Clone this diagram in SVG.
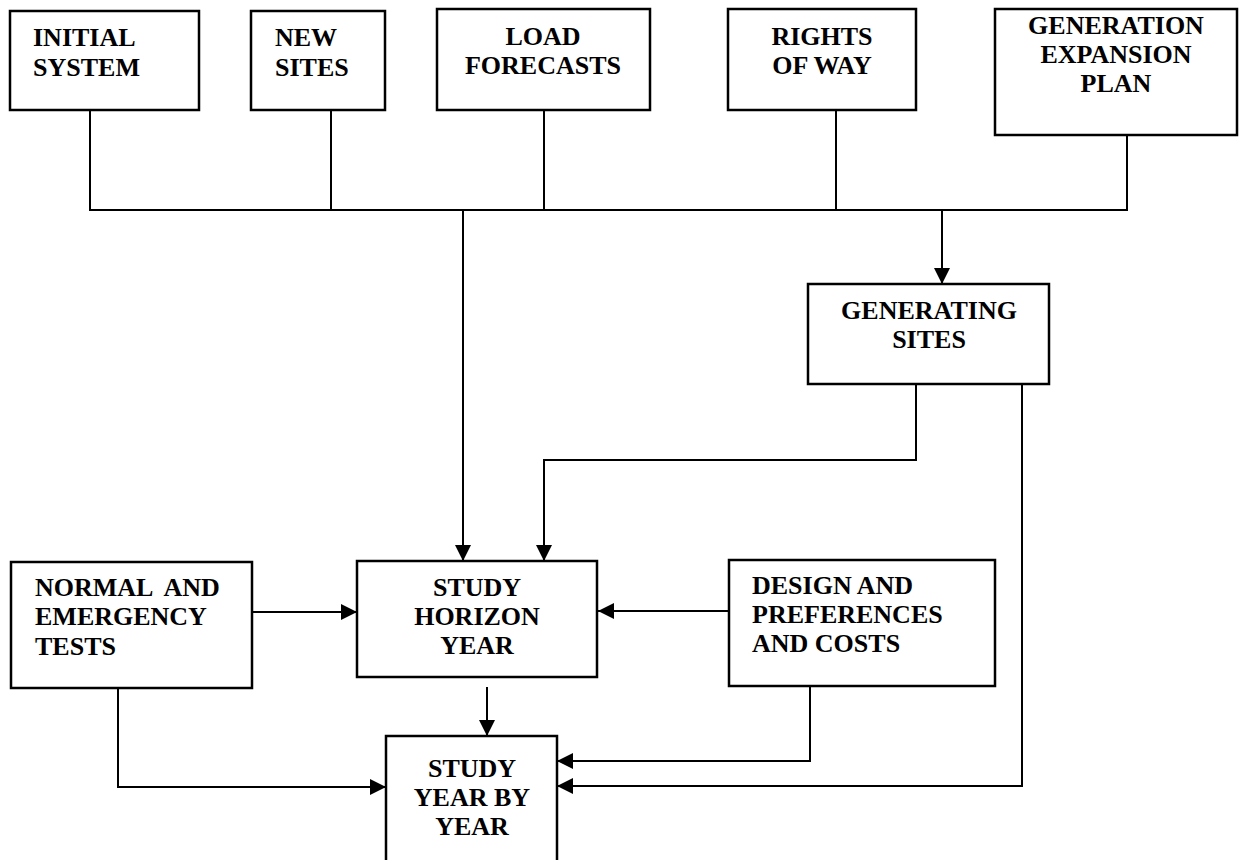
<svg xmlns="http://www.w3.org/2000/svg" width="1242" height="860" viewBox="0 0 1242 860">
  <style>
    .box { fill: #fff; stroke: #000; stroke-width: 2.5; }
    .lbl { font-family: "Liberation Serif", "Times New Roman", serif; font-weight: bold; font-size: 26px; fill: #000; }
    .mid { text-anchor: middle; }
    .wire { fill: none; stroke: #000; stroke-width: 2; }
  </style>
  <defs>
    <marker id="arrow" viewBox="0 0 16 16" refX="16" refY="8" markerWidth="16" markerHeight="16" markerUnits="userSpaceOnUse" orient="auto">
      <path d="M0,0 L16,8 L0,16 Z" fill="#000"/>
    </marker>
  </defs>
  <rect width="1242" height="860" fill="#fff"/>

  <!-- connectors -->
  <g id="connectors">
    <!-- input bus -->
    <polyline class="wire" points="90,110 90,210 1127,210 1127,135"/>
    <line class="wire" x1="331" y1="110" x2="331" y2="210"/>
    <line class="wire" x1="544" y1="110" x2="544" y2="210"/>
    <line class="wire" x1="836" y1="110" x2="836" y2="210"/>
    <line class="wire" x1="463" y1="210" x2="463" y2="561" marker-end="url(#arrow)"/>
    <line class="wire" x1="942" y1="210" x2="942" y2="284" marker-end="url(#arrow)"/>
    <!-- generating sites outputs -->
    <polyline class="wire" points="916,384 916,460 544,460 544,561" marker-end="url(#arrow)"/>
    <polyline class="wire" points="1022,384 1022,786 557,786" marker-end="url(#arrow)"/>
    <!-- tests and preferences -->
    <line class="wire" x1="252" y1="612" x2="357" y2="612" marker-end="url(#arrow)"/>
    <line class="wire" x1="729" y1="611" x2="598" y2="611" marker-end="url(#arrow)"/>
    <polyline class="wire" points="810,686 810,761 557,761" marker-end="url(#arrow)"/>
    <polyline class="wire" points="118,688 118,787 386,787" marker-end="url(#arrow)"/>
    <!-- horizon to year by year -->
    <line class="wire" x1="487" y1="687" x2="487" y2="736" marker-end="url(#arrow)"/>
  </g>

  <g id="initial-system">
    <rect class="box" x="10" y="11" width="189" height="99"/>
    <text class="lbl" x="33" y="46">INITIAL</text>
    <text class="lbl" x="33" y="76">SYSTEM</text>
  </g>
  <g id="new-sites">
    <rect class="box" x="251" y="11" width="134" height="99"/>
    <text class="lbl" x="275" y="46">NEW</text>
    <text class="lbl" x="275" y="76">SITES</text>
  </g>
  <g id="load-forecasts">
    <rect class="box" x="437" y="9" width="213" height="101"/>
    <text class="lbl mid" x="543" y="45">LOAD</text>
    <text class="lbl mid" x="543" y="74">FORECASTS</text>
  </g>
  <g id="rights-of-way">
    <rect class="box" x="728" y="9" width="188" height="101"/>
    <text class="lbl mid" x="822" y="45">RIGHTS</text>
    <text class="lbl mid" x="822" y="74">OF WAY</text>
  </g>
  <g id="generation-expansion-plan">
    <rect class="box" x="995" y="9" width="242" height="126"/>
    <text class="lbl mid" x="1116" y="34">GENERATION</text>
    <text class="lbl mid" x="1116" y="63">EXPANSION</text>
    <text class="lbl mid" x="1116" y="92">PLAN</text>
  </g>
  <g id="generating-sites">
    <rect class="box" x="808" y="284" width="241" height="100"/>
    <text class="lbl mid" x="929" y="319">GENERATING</text>
    <text class="lbl mid" x="929" y="348">SITES</text>
  </g>
  <g id="normal-emergency-tests">
    <rect class="box" x="11" y="562" width="241" height="126"/>
    <text class="lbl" x="35" y="596" xml:space="preserve">NORMAL  AND</text>
    <text class="lbl" x="35" y="625">EMERGENCY</text>
    <text class="lbl" x="35" y="655">TESTS</text>
  </g>
  <g id="study-horizon-year">
    <rect class="box" x="357" y="561" width="240" height="116"/>
    <text class="lbl mid" x="477" y="596">STUDY</text>
    <text class="lbl mid" x="477" y="625">HORIZON</text>
    <text class="lbl mid" x="477" y="654">YEAR</text>
  </g>
  <g id="design-preferences-costs">
    <rect class="box" x="729" y="560" width="266" height="126"/>
    <text class="lbl" x="752" y="594">DESIGN AND</text>
    <text class="lbl" x="752" y="623">PREFERENCES</text>
    <text class="lbl" x="752" y="652">AND COSTS</text>
  </g>
  <g id="study-year-by-year">
    <rect class="box" x="386" y="736" width="171" height="130"/>
    <text class="lbl mid" x="472" y="777">STUDY</text>
    <text class="lbl mid" x="472" y="806">YEAR BY</text>
    <text class="lbl mid" x="472" y="835">YEAR</text>
  </g>
</svg>
